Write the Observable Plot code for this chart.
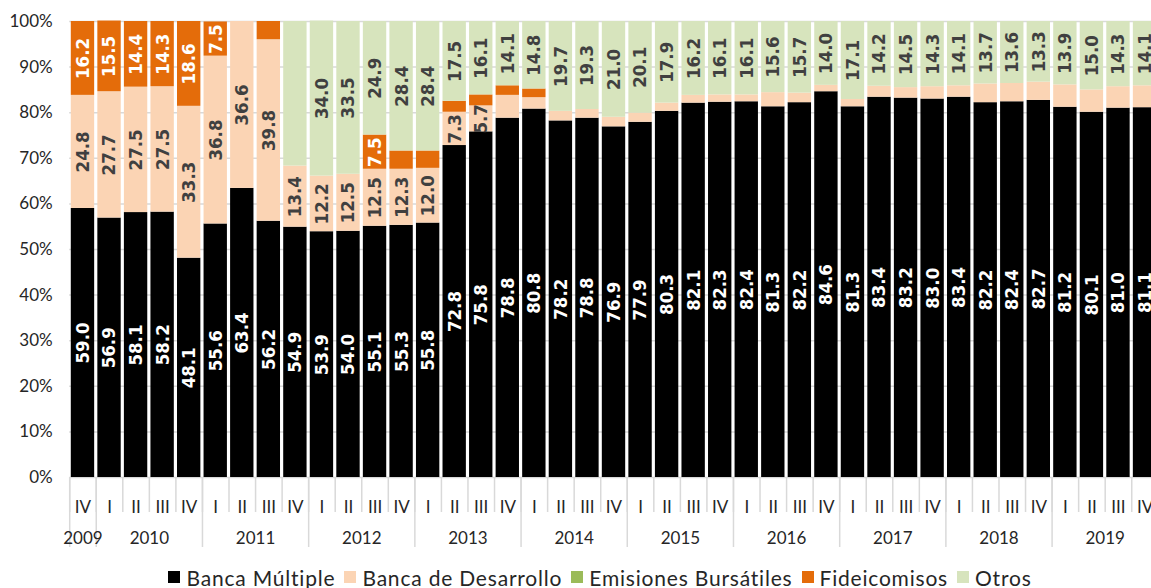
<!DOCTYPE html>
<html><head><meta charset="utf-8">
<script src="https://cdn.jsdelivr.net/npm/d3@7"></script>
<script src="https://cdn.jsdelivr.net/npm/@observablehq/plot@0.6"></script>
<style>
html,body{margin:0;padding:0;background:#fff;overflow:hidden;}
#chart{width:1151px;overflow:hidden;}
#legend{width:1151px;box-sizing:border-box;padding-left:58px;margin-top:5px;}
#legend > div{display:flex !important;justify-content:center;align-items:center;min-height:32px !important;margin:0 !important;font-family:Lato,sans-serif !important;font-size:21px !important;letter-spacing:0.8px;color:#262626;}
#legend span{margin-right:9px !important;}
#legend svg{margin-right:6px !important;}
</style></head><body><div id="chart"></div><div id="legend"></div><script>
// ---- data ----
const quarterYears = [2009,2010,2010,2010,2010,2011,2011,2011,2011,2012,2012,2012,2012,2013,2013,2013,2013,2014,2014,2014,2014,2015,2015,2015,2015,2016,2016,2016,2016,2017,2017,2017,2017,2018,2018,2018,2018,2019,2019,2019,2019];
const quarterLabels = ["IV","I","II","III","IV","I","II","III","IV","I","II","III","IV","I","II","III","IV","I","II","III","IV","I","II","III","IV","I","II","III","IV","I","II","III","IV","I","II","III","IV","I","II","III","IV"];
const yearLabels = ["2009","2010","2011","2012","2013","2014","2015","2016","2017","2018","2019"];
const series = ["Banca Múltiple","Banca de Desarrollo","Emisiones Bursátiles","Fideicomisos","Otros"];
const seriesColors = ["#000000","#FBD4B4","#9BBB59","#E46C0A","#D7E4BD"];
const bancaMultiple = [59.0,56.9,58.1,58.2,48.1,55.6,63.4,56.2,54.9,53.9,54.0,55.1,55.3,55.8,72.8,75.8,78.8,80.8,78.2,78.8,76.9,77.9,80.3,82.1,82.3,82.4,81.3,82.2,84.6,81.3,83.4,83.2,83.0,83.4,82.2,82.4,82.7,81.2,80.1,81.0,81.1];
const bancaDesarrollo = [24.8,27.7,27.5,27.5,33.3,36.8,36.6,39.8,13.4,12.2,12.5,12.5,12.3,12.0,7.3,5.7,5.0,2.5,2.1,1.9,2.1,2.0,1.8,1.7,1.6,1.5,3.1,2.1,1.4,1.6,2.4,2.3,2.7,2.5,4.1,4.0,4.0,4.9,4.9,4.7,4.8];
const emisionesBursatiles = [0,0,0,0,0,0,0,0,0,0,0,0,0,0,0,0,0,0,0,0,0,0,0,0,0,0,0,0,0,0,0,0,0,0,0,0,0,0,0,0,0];
const fideicomisos = [16.2,15.5,14.4,14.3,18.6,7.5,0,4.0,0,0,0,7.5,4.0,3.8,2.4,2.4,2.1,1.9,0,0,0,0,0,0,0,0,0,0,0,0,0,0,0,0,0,0,0,0,0,0,0];
const otros = [0,0,0,0,0,0,0,0,31.7,34.0,33.5,24.9,28.4,28.4,17.5,16.1,14.1,14.8,19.7,19.3,21.0,20.1,17.9,16.2,16.1,16.1,15.6,15.7,14.0,17.1,14.2,14.5,14.3,14.1,13.7,13.6,13.3,13.9,15.0,14.3,14.1];
const yTicks = [0,10,20,30,40,50,60,70,80,90,100];
// segments whose value is not printed in the original
const unlabeled = [["2011-IV","Otros"]];

// ---- build table ----
const keys = quarterYears.map((y,i)=>`${y}-${quarterLabels[i]}`);
const valuesBySeries = [bancaMultiple,bancaDesarrollo,emisionesBursatiles,fideicomisos,otros];
const data = [];
keys.forEach((k,i)=>series.forEach((s,j)=>data.push({key:k,series:s,value:valuesBySeries[j][i]})));
const isHidden = d => unlabeled.some(([k,s])=>k===d.key && s===d.series);
const labelOf = d => (d.value > 5 && !isHidden(d)) ? d.value.toFixed(1) : "";
const whiteSeries = ["Banca Múltiple","Fideicomisos"];

const W = 1151, ML = 69.2, MR = -6.8;
const step = (W - MR - ML)/keys.length;
const yearSep = keys.filter((k,i)=> i===0 || quarterLabels[i]==="I");
const firstYear = [{year: yearLabels[0], key: keys[0]}];
const otherYears = yearLabels.slice(1).map(y => ({year: y, key: `${y}-II`}));

const axisFont = "Lato, sans-serif";
const labelFont = "'DejaVu Sans Condensed', 'DejaVu Sans', sans-serif";

const chart = Plot.plot({
  width: W, height: 556,
  marginLeft: ML, marginRight: MR, marginTop: 21, marginBottom: 79,
  style: {fontFamily: axisFont, overflow: "hidden", background: "#fff"},
  x: {domain: keys, paddingInner: 0.12, paddingOuter: 0.06, round: false, axis: null, label: null},
  y: {domain: [0,100], axis: null, label: null},
  color: {domain: series, range: seriesColors},
  marks: [
    Plot.ruleY(yTicks, {stroke: "#d9d9d9", strokeWidth: 1.5}),
    Plot.barY(data, Plot.stackY({x: "key", y: "value", z: "series", fill: "series", order: series})),
    Plot.text(data, Plot.stackY({x: "key", y: "value", z: "series", order: series,
      text: d => whiteSeries.includes(d.series) ? labelOf(d) : "",
      rotate: -90, fill: "white", fontSize: 18.5, fontWeight: "bold", fontFamily: labelFont})),
    Plot.text(data, Plot.stackY({x: "key", y: "value", z: "series", order: series,
      text: d => whiteSeries.includes(d.series) ? "" : labelOf(d),
      rotate: -90, fill: "#404040", fontSize: 18.5, fontWeight: "bold", fontFamily: labelFont})),
    Plot.axisY({ticks: yTicks, tickSize: 0, tickPadding: 17, tickFormat: d => d + "%", fontSize: 17, fill: "#262626", label: null}),
    // quarter separators
    Plot.axisX({ticks: keys, tickSize: 35, tickFormat: () => "", dx: -step/2, stroke: "#d9d9d9", strokeWidth: 1.5, label: null}),
    // year separators
    Plot.axisX({ticks: yearSep, tickSize: 70, tickFormat: () => "", dx: -step/2, stroke: "#d9d9d9", strokeWidth: 1.5, label: null}),
    // quarter labels
    Plot.axisX({ticks: keys, tickSize: 0, tickPadding: 23, tickFormat: k => k.split("-")[1], fontSize: 17, fill: "#262626", label: null}),
    // year labels
    Plot.text(firstYear, {x: "key", text: "year", frameAnchor: "bottom", dy: 66, fontSize: 17, fill: "#262626"}),
    Plot.text(otherYears, {x: "key", text: "year", dx: step/2, frameAnchor: "bottom", dy: 66, fontSize: 17, fill: "#262626"})
  ]
});
document.getElementById("chart").appendChild(chart);
document.getElementById("legend").appendChild(chart.legend("color", {swatchSize: 12}));
</script></body></html>
